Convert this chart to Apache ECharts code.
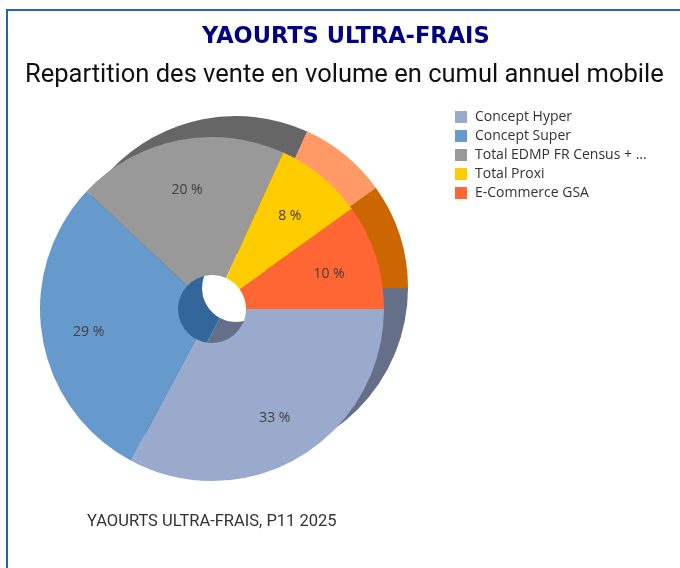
<!DOCTYPE html>
<html lang="en">
<head>
<meta charset="UTF-8">
<title>Yaourts ultra-frais</title>
<script src="https://cdn.jsdelivr.net/npm/echarts@6/dist/echarts.min.js"></script>
<style>
  html, body { margin: 0; padding: 0; background: #fff; }
  #frame { position: absolute; left: 6px; top: 9px; width: 700px; height: 600px;
           border-left: 2px solid #2063bd; border-top: 2px solid #2063bd; }
  #chart { position: absolute; left: 0; top: 0; width: 680px; height: 568px; }
</style>
</head>
<body>
<div id="frame"></div>
<div id="chart"></div>
<script>
// parts of annual rolling volume, in %
var categories = ['Concept Hyper', 'Concept Super', 'Total EDMP FR Census + ...', 'Total Proxi', 'E-Commerce GSA'];
var shares = [32.8, 29.2, 19.8, 8.3, 9.9];

var faceColors = ['#99aacc', '#6699cc', '#999999', '#ffcc00', '#ff6633'];
var sideColors = ['#666f88', '#336699', '#666666', '#ff9966', '#cc6600'];

function build(cols) {
  return categories.map(function (c, i) {
    return { name: c, value: shares[i], itemStyle: { color: cols[i] } };
  });
}

var font = 'Roboto, "Noto Sans", sans-serif';
var chart = echarts.init(document.getElementById('chart'));

chart.setOption({
  animation: false,
  title: [
    { text: 'YAOURTS ULTRA-FRAIS', left: 202, top: 26, padding: 0,
      textStyle: { fontFamily: '"DejaVu Sans", sans-serif', fontSize: 22.5, fontWeight: 'bold', color: '#000080' } },
    { text: 'Repartition des vente en volume en cumul annuel mobile', left: 25, top: 63, padding: 0,
      textStyle: { fontFamily: font, fontSize: 25.5, fontWeight: 'normal', color: '#111' } },
    { text: 'YAOURTS ULTRA-FRAIS, P11 2025', left: 87, top: 513, padding: 0,
      textStyle: { fontFamily: font, fontSize: 16.5, fontWeight: 'normal', color: '#333' } }
  ],
  legend: {
    orient: 'vertical', left: 450, top: 105,
    icon: 'rect', itemWidth: 12, itemHeight: 12, itemGap: 5,
    textStyle: { fontFamily: '"Open Sans", sans-serif', fontSize: 14, lineHeight: 12, color: '#333',
                 padding: [0, 0, 0, 3] },
    data: categories
  },
  series: [
    {
      // front face
      type: 'pie', z: 3, center: [212, 309], radius: [34, 172],
      startAngle: 0, clockwise: true, silent: true,
      label: { show: false }, labelLine: { show: false },
      emphasis: { disabled: true },
      data: build(faceColors)
    },
    {
      // depth layer, shifted up-right
      type: 'pie', z: 1, center: [236, 288], radius: [34, 172],
      startAngle: 0, clockwise: true, silent: true, legendHoverLink: false,
      label: { show: false }, labelLine: { show: false },
      emphasis: { disabled: true },
      data: build(sideColors)
    },
    {
      // labels only
      type: 'pie', z: 4, center: [212, 309], radius: [70, 172],
      startAngle: 0, clockwise: true, silent: true, legendHoverLink: false,
      itemStyle: { color: 'rgba(0,0,0,0)' },
      label: {
        show: true, position: 'inside', fontFamily: '"Open Sans", sans-serif', fontSize: 14, color: '#404040',
        offset: [-1, 3],
        formatter: function (p) { return Math.round(p.value) + ' %'; }
      },
      labelLine: { show: false },
      emphasis: { disabled: true },
      data: categories.map(function (c, i) { return { name: c, value: shares[i] }; })
    }
  ]
});
</script>
</body>
</html>
